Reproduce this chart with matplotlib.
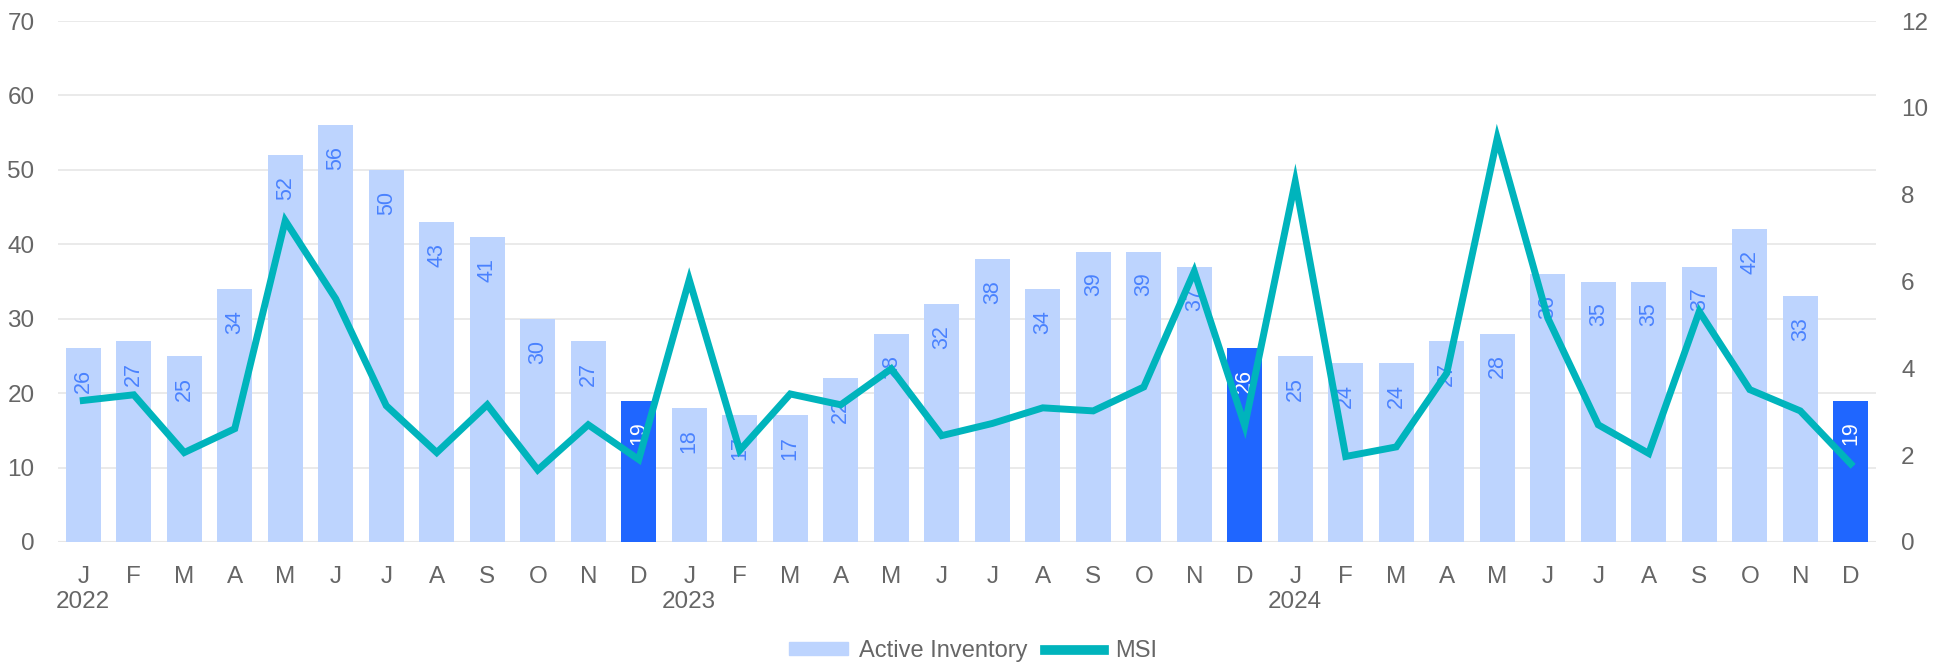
import matplotlib

matplotlib.use("Agg")
import matplotlib.pyplot as plt
import numpy as np
from matplotlib.lines import Line2D
from matplotlib.patches import Patch

plt.rcParams["font.family"] = ["Liberation Sans", "DejaVu Sans"]

months = ["J", "F", "M", "A", "M", "J", "J", "A", "S", "O", "N", "D"] * 3
years = {0: "2022", 12: "2023", 24: "2024"}
inventory = [26, 27, 25, 34, 52, 56, 50, 43, 41, 30, 27, 19,
             18, 17, 17, 22, 28, 32, 38, 34, 39, 39, 37, 26,
             25, 24, 24, 27, 28, 36, 35, 35, 37, 42, 33, 19]
msi = [3.26, 3.39, 2.06, 2.61, 7.40, 5.60, 3.14, 2.06, 3.16, 1.66, 2.70, 1.90,
       6.04, 2.11, 3.41, 3.16, 3.99, 2.45, 2.73, 3.09, 3.02, 3.57, 6.23, 2.68,
       8.30, 1.97, 2.19, 3.89, 9.30, 5.16, 2.70, 2.04, 5.31, 3.51, 3.02, 1.80]
highlight = [11, 23, 35]  # December bars

LIGHT = "#bdd4fe"
DARK = "#1f66ff"
TEAL = "#00b4bc"
GREY = "#666666"
GRID = "#e6e6e6"

W, H = 1946, 664
fig = plt.figure(figsize=(W / 100, H / 100), dpi=100)
ax = fig.add_axes([58 / W, 1 - 542 / H, (1876 - 58) / W, (542 - 21) / H])
ax2 = ax.twinx()

x = np.arange(len(inventory))
colors = [DARK if i in highlight else LIGHT for i in x]
ax.bar(x, inventory, width=0.69, color=colors, zorder=2)
for i, v in enumerate(inventory):
    ax.annotate(str(v), (i, v), xytext=(0, -15), textcoords="offset points",
                rotation=90, ha="center", va="top", fontsize=15.5,
                color="white" if i in highlight else "#4a82ff", zorder=3)

ax2.plot(x, msi, color=TEAL, lw=5, zorder=4, solid_joinstyle="miter")

ax.set_xlim(-0.5, len(inventory) - 0.5)
ax.set_ylim(0, 70)
ax.set_yticks(range(0, 71, 10))
ax2.set_ylim(0, 12)
ax2.set_yticks(range(0, 13, 2))
ax.yaxis.grid(True, color=GRID, lw=1.2, zorder=0)
ax.set_axisbelow(True)
ax2.set_zorder(ax.get_zorder() + 1)
ax2.patch.set_visible(False)

labels = [m + ("\n" + years[i] if i in years else "") for i, m in enumerate(months)]
ax.set_xticks(x)
ax.set_xticklabels(labels, linespacing=1.2)
for a in (ax, ax2):
    for s in a.spines.values():
        s.set_visible(False)
    a.tick_params(length=0, colors=GREY, labelsize=17.5)
ax.tick_params(axis="x", pad=17)
ax.tick_params(axis="y", pad=17)
ax2.tick_params(axis="y", pad=18)
ax.axhline(0, color=GRID, lw=1.5, zorder=1)

handles = [Patch(color=LIGHT), Line2D([], [], color=TEAL, lw=7)]
fig.legend(handles, ["Active Inventory", "MSI"], loc="center", bbox_to_anchor=(0.5, 1 - 651 / H),
           ncol=2, frameon=False, fontsize=17, labelcolor=GREY, handlelength=2.5,
           handleheight=0.45, columnspacing=0.7, handletextpad=0.5)

fig.savefig("out.png", dpi=100)
